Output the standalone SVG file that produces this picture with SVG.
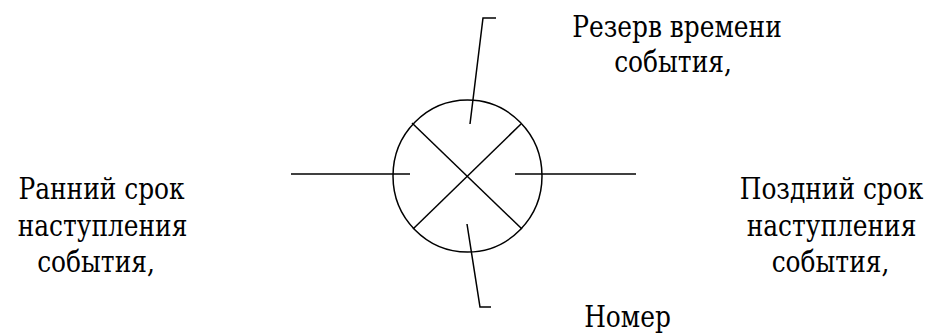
<svg xmlns="http://www.w3.org/2000/svg" width="938" height="336" viewBox="0 0 938 336">
  <style>
    .ln { fill: none; stroke: #000; stroke-width: 1.5; }
  </style>
  <rect width="938" height="336" fill="#fff"/>
  <g id="event">
    <ellipse class="ln" cx="467.5" cy="176" rx="74.5" ry="76"/>
    <line class="ln" x1="412" y1="123" x2="522" y2="229"/>
    <line class="ln" x1="521" y1="124" x2="413" y2="229"/>
  </g>
  <g id="connectors">
    <polyline class="ln" points="470,124 483,18 496,18"/>
    <polyline class="ln" points="467,224 480,307 491,307"/>
    <line class="ln" x1="291" y1="174" x2="410" y2="174"/>
    <line class="ln" x1="515" y1="174" x2="636" y2="174"/>
  </g>
  <g id="label-reserve">
    <text transform="translate(677,37) scale(0.83,1)" font-family="DejaVu Serif" font-size="30" text-anchor="middle">Резерв времени</text>
    <text transform="translate(673,72) scale(0.83,1)" font-family="DejaVu Serif" font-size="30" text-anchor="middle">события,</text>
  </g>
  <g id="label-early">
    <text transform="translate(101.5,199) scale(0.83,1)" font-family="DejaVu Serif" font-size="30" text-anchor="middle">Ранний срок</text>
    <text transform="translate(102.5,236) scale(0.83,1)" font-family="DejaVu Serif" font-size="30" text-anchor="middle">наступления</text>
    <text transform="translate(96,272) scale(0.83,1)" font-family="DejaVu Serif" font-size="30" text-anchor="middle">события,</text>
  </g>
  <g id="label-late">
    <text transform="translate(831.5,199) scale(0.83,1)" font-family="DejaVu Serif" font-size="30" text-anchor="middle">Поздний срок</text>
    <text transform="translate(831.5,236) scale(0.83,1)" font-family="DejaVu Serif" font-size="30" text-anchor="middle">наступления</text>
    <text transform="translate(830.5,272) scale(0.83,1)" font-family="DejaVu Serif" font-size="30" text-anchor="middle">события,</text>
  </g>
  <g id="label-number">
    <text transform="translate(627.5,327) scale(0.83,1)" font-family="DejaVu Serif" font-size="30" text-anchor="middle">Номер</text>
  </g>
</svg>
